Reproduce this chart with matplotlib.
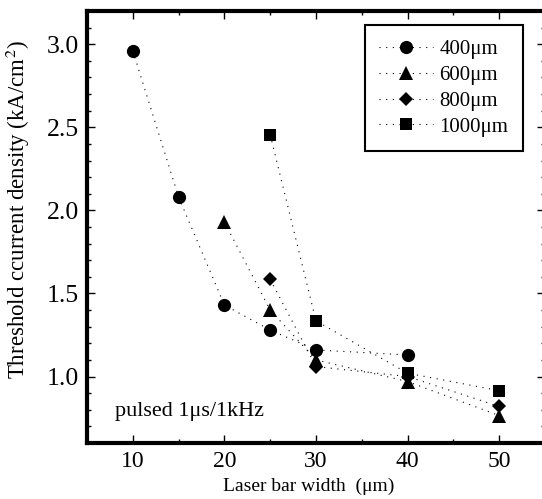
import matplotlib
matplotlib.use("Agg")
import matplotlib.pyplot as plt
from matplotlib.ticker import MultipleLocator

plt.rcParams['font.family'] = ['Liberation Serif', 'DejaVu Serif']
plt.rcParams['mathtext.fontset'] = 'stix'

# bar widths (um) and threshold current density (kA/cm2) per cavity length
w_400 = [10, 15, 20, 25, 30, 40]
j_400 = [2.96, 2.08, 1.43, 1.28, 1.16, 1.13]

w_600 = [20, 25, 30, 40, 50]
j_600 = [1.93, 1.40, 1.10, 0.97, 0.765]

w_800 = [25, 30, 40, 50]
j_800 = [1.585, 1.06, 1.00, 0.82]

w_1000 = [25, 30, 40, 50]
j_1000 = [2.455, 1.335, 1.02, 0.915]

labels = ['400\u03bcm', '600\u03bcm', '800\u03bcm', '1000\u03bcm']
markers = ['o', '^', 'D', 's']
msizes = [9.5, 9.5, 7.5, 8.5]

W, H = 542, 499
fig = plt.figure(figsize=(W / 100, H / 100), dpi=100)
ax = fig.add_axes([87 / W, 1 - 443 / H, (545 - 87) / W, (443 - 11) / H])

series = [(w_400, j_400), (w_600, j_600), (w_800, j_800), (w_1000, j_1000)]
for (xs, ys), lab, mk, ms in zip(series, labels, markers, msizes):
    ax.plot(xs, ys, color='black', linestyle=(0, (1, 5)), linewidth=0.8,
            marker=mk, markersize=ms, markeredgewidth=0, label=lab)

ax.set_xlim(5, 55)
ax.set_ylim(0.6, 3.2)
ax.xaxis.set_major_locator(MultipleLocator(10))
ax.xaxis.set_minor_locator(MultipleLocator(5))
ax.yaxis.set_major_locator(MultipleLocator(0.5))
ax.yaxis.set_minor_locator(MultipleLocator(0.1))
ax.yaxis.set_major_formatter(plt.FormatStrFormatter('%.1f'))

for s in ax.spines.values():
    s.set_linewidth(3)
ax.tick_params(which='both', direction='in', top=True, right=True, width=1)
ax.tick_params(which='major', length=6, pad=6)
ax.tick_params(which='minor', length=3)
ax.tick_params(axis='x', labelsize=17)
ax.tick_params(axis='y', labelsize=18.5)

ax.set_xlabel('Laser bar width  (\u03bcm)', fontsize=14)
ax.xaxis.set_label_coords(0.483, -0.081)
ax.set_ylabel('Threshold ccurrent density (kA/cm$^{2}$)', fontsize=16.5)
ax.yaxis.set_label_coords(-0.12, 0.54)

ax.text(8.1, 0.79, 'pulsed 1\u03bcs/1kHz', fontsize=16, va='center', ha='left')

leg = ax.legend(loc='upper right', bbox_to_anchor=(523 / W, 1 - 25 / H),
                bbox_transform=fig.transFigure, borderaxespad=0,
                numpoints=1, fontsize=15, handlelength=2.6,
                labelspacing=0.3, fancybox=False, framealpha=1,
                edgecolor='black', borderpad=0.7, handletextpad=0.3)
leg.get_frame().set_linewidth(1.5)

fig.savefig('out.png', dpi=100)
